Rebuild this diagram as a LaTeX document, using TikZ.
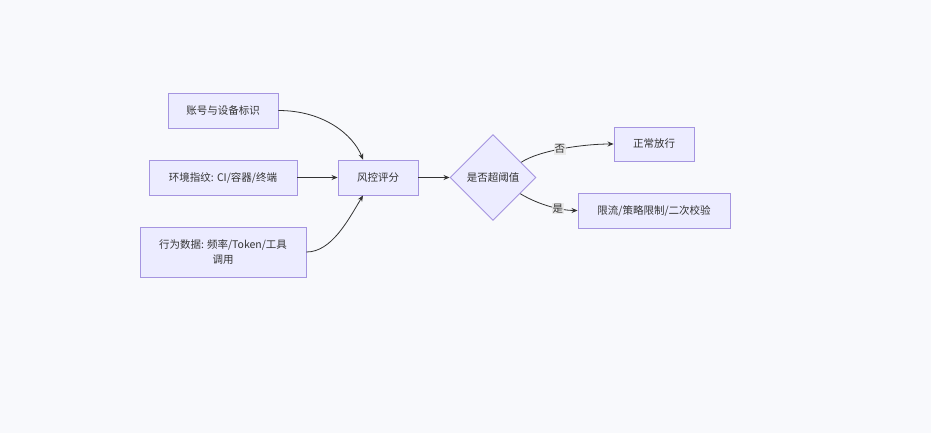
\documentclass[tikz,border=0pt]{standalone}
\usepackage{fontspec}
\setmainfont{Noto Sans CJK SC}
\usetikzlibrary{shapes.geometric,arrows.meta}
\definecolor{bg}{HTML}{F8F9FC}
\definecolor{nfill}{HTML}{ECECFF}
\definecolor{nstroke}{HTML}{A595E0}
\definecolor{txt}{HTML}{333333}
\definecolor{lblbg}{HTML}{E8E8E8}
\begin{document}
\begin{tikzpicture}[x=1pt,y=-1pt,
  box/.style={draw=nstroke,fill=nfill,line width=0.9pt,text=txt,font=\fontsize{10.5}{15}\selectfont,inner sep=0pt,align=center},
  dia/.style={diamond,draw=nstroke,fill=nfill,line width=0.9pt,text=txt,font=\fontsize{10.5}{15}\selectfont,inner sep=0pt,minimum width=86pt,minimum height=86pt,aspect=1},
  conn/.style={draw=txt,line width=0.8pt,-{Stealth[length=6pt,width=5pt]}},
  lbl/.style={fill=lblbg,fill opacity=0.85,text opacity=1,text=txt,font=\fontsize{10.5}{12}\selectfont,inner sep=1pt}]
\fill[bg] (0,0) rectangle (931,433);
\useasboundingbox (0,0) rectangle (931,433);
\node[box,minimum width=110pt,minimum height=35pt] (a) at (223,110.5) {账号与设备标识};
\node[box,minimum width=148pt,minimum height=35pt] (b) at (223,177.5) {环境指纹: CI/容器/终端};
\node[box,minimum width=166pt,minimum height=50pt] (c) at (223,252) {行为数据: 频率/Token/工具\\调用};
\node[box,minimum width=80pt,minimum height=35pt] (d) at (378,177.5) {风控评分};
\node[dia] (e) at (493,177.5) {是否超阈值};
\node[box,minimum width=80pt,minimum height=34pt] (f) at (654,144) {正常放行};
\node[box,minimum width=152pt,minimum height=35pt] (g) at (654,210.5) {限流/策略限制/二次校验};
\draw[conn] (a.east) .. controls +(45,0) and +(-10,-25) .. ([xshift=-15pt]d.north);
\draw[conn] (b.east) -- (d.west);
\draw[conn] (c.east) .. controls +(25,0) and +(-15,25) .. ([xshift=-15pt]d.south);
\draw[conn] (d.east) -- (e.west);
\path (e.north east) ++(6.5,6.5) coordinate (e1);
\draw[conn] (e1) .. controls +(18,-12) and +(-30,0) .. node[lbl,pos=0.47] (l1) {否} (f.west);
\path (e.south east) ++(5.5,-5.5) coordinate (e2);
\draw[conn] (e2) .. controls +(20,12) and +(-15,0) .. node[lbl,pos=0.62] (l2) {是} (g.west);
\end{tikzpicture}
\end{document}
